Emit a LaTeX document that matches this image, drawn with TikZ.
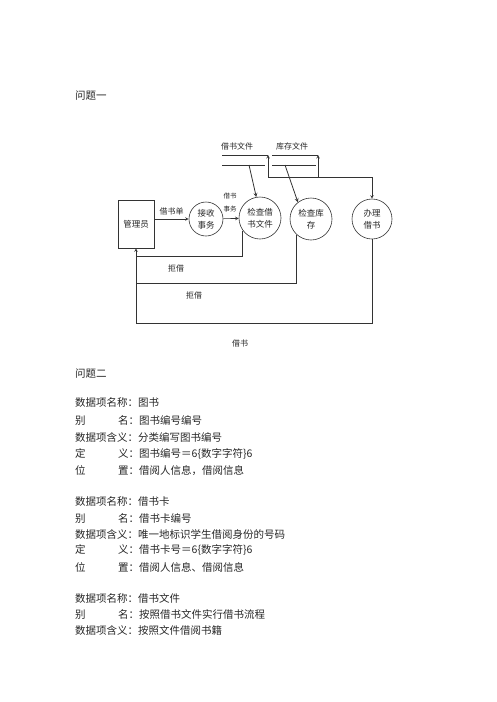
\documentclass[tikz,border=0pt]{standalone}
\usepackage{fontspec}
\setmainfont{Noto Sans CJK SC}
\begin{document}
\begin{tikzpicture}[>=stealth, x=1pt, y=-1pt,
    txt/.style={anchor=west, inner sep=0pt, text=black!85, font=\fontsize{10.5}{12}\selectfont},
    lbl/.style={inner sep=0pt, text=black!85, font=\fontsize{8}{9}\selectfont},
    proc/.style={draw=black!80, semithick, circle, minimum size=42pt, inner sep=0pt, align=center, text=black!85, font=\fontsize{8.5}{12}\selectfont},
    flow/.style={draw=black!80, semithick}]
  \useasboundingbox (0,0) rectangle (496,702);
  \node[txt] (q1) at (75,96) {问题一};

  % processes and the librarian
  \node[draw=black!80, semithick, minimum width=36pt, minimum height=48pt, inner sep=0pt, text=black!85, font=\fontsize{8.5}{10}\selectfont] (mgr) at (136,224) {管理员};
  \node[proc, minimum size=34pt] (recv) at (206,219) {接收\\事务};
  \node[proc] (chkfile) at (260,218) {检查借\\书文件};
  \node[proc] (chkstock) at (311,219) {检查库\\存};
  \node[proc, minimum size=40pt] (lend) at (372,219) {办理\\借书};

  % data stores
  \coordinate (f1) at (222,155); \coordinate (f2) at (268,155);
  \coordinate (f3) at (222,165); \coordinate (f4) at (265,165);
  \coordinate (s1) at (272,155); \coordinate (s2) at (318,155);
  \coordinate (s3) at (272,165); \coordinate (s4) at (316,165);
  \draw[flow] (f1) -- (f2);
  \draw[flow] (f3) -- (f4);
  \draw[flow] (s1) -- (s2);
  \draw[flow] (s3) -- (s4);
  \node[lbl] (lbfile) at (237,146) {借书文件};
  \node[lbl] (lbstock) at (292,146) {库存文件};

  % updates from lending
  \coordinate (j1) at (268,177); \coordinate (j2) at (318,177); \coordinate (j3) at (372,177);
  \draw[flow,->] (j1) -- (f2);
  \draw[flow,->] (j2) -- (s2);
  \draw[flow] (j1) -- (j3);
  \draw[flow,->] (j3) -- (lend);

  % reads from the stores
  \coordinate (fr) at (249,165); \coordinate (sr) at (285,165);
  \draw[flow,thick,->] (fr) -- (chkfile.100);
  \draw[flow,thick,->] (sr) -- (chkstock.128);

  % main flow
  \draw[flow,->] (mgr.east |- recv) -- node[lbl, above=4pt] (lbreq) {借书单} (recv);
  \draw[flow,->] (recv) -- (chkfile);
  \node[lbl, font=\fontsize{6.5}{13}\selectfont, align=center] (lbtx) at (230,203) {借书\\事务};

  % answers back to the librarian
  \coordinate (r1) at (136,256); \coordinate (r2) at (136,283); \coordinate (r3) at (136,323);
  \draw[flow] (chkfile.216) |- (r1);
  \draw[flow] (chkstock.228) |- (r2);
  \draw[flow] (lend.south) |- (r3) -- (r1);
  \draw[flow,->] (r1) -- (mgr);
  \node[lbl] (lbrej1) at (176,268) {拒借};
  \node[lbl] (lbrej2) at (194,295) {拒借};
  \node[lbl] (lbok) at (240,343) {借书};

  % data items
  \node[txt] (q2) at (75,374) {问题二};
  \foreach \y/\t in {403/数据项名称：图书,
      420/\makebox[43pt][l]{别}名：图书编号编号,
      437/数据项含义：分类编写图书编号,
      454/\makebox[43pt][l]{定}义：图书编号＝6\{数字字符\}6,
      471/\makebox[43pt][l]{位}置：借阅人信息，借阅信息,
      502/数据项名称：借书卡,
      518/\makebox[43pt][l]{别}名：借书卡编号,
      534/数据项含义：唯一地标识学生借阅身份的号码,
      550/\makebox[43pt][l]{定}义：借书卡号＝6\{数字字符\}6,
      567/\makebox[43pt][l]{位}置：借阅人信息、借阅信息,
      598/数据项名称：借书文件,
      614/\makebox[43pt][l]{别}名：按照借书文件实行借书流程,
      630/数据项含义：按照文件借阅书籍} {
    \node[txt] (ln\y) at (75,\y) {\t};
  }
\end{tikzpicture}
\end{document}
